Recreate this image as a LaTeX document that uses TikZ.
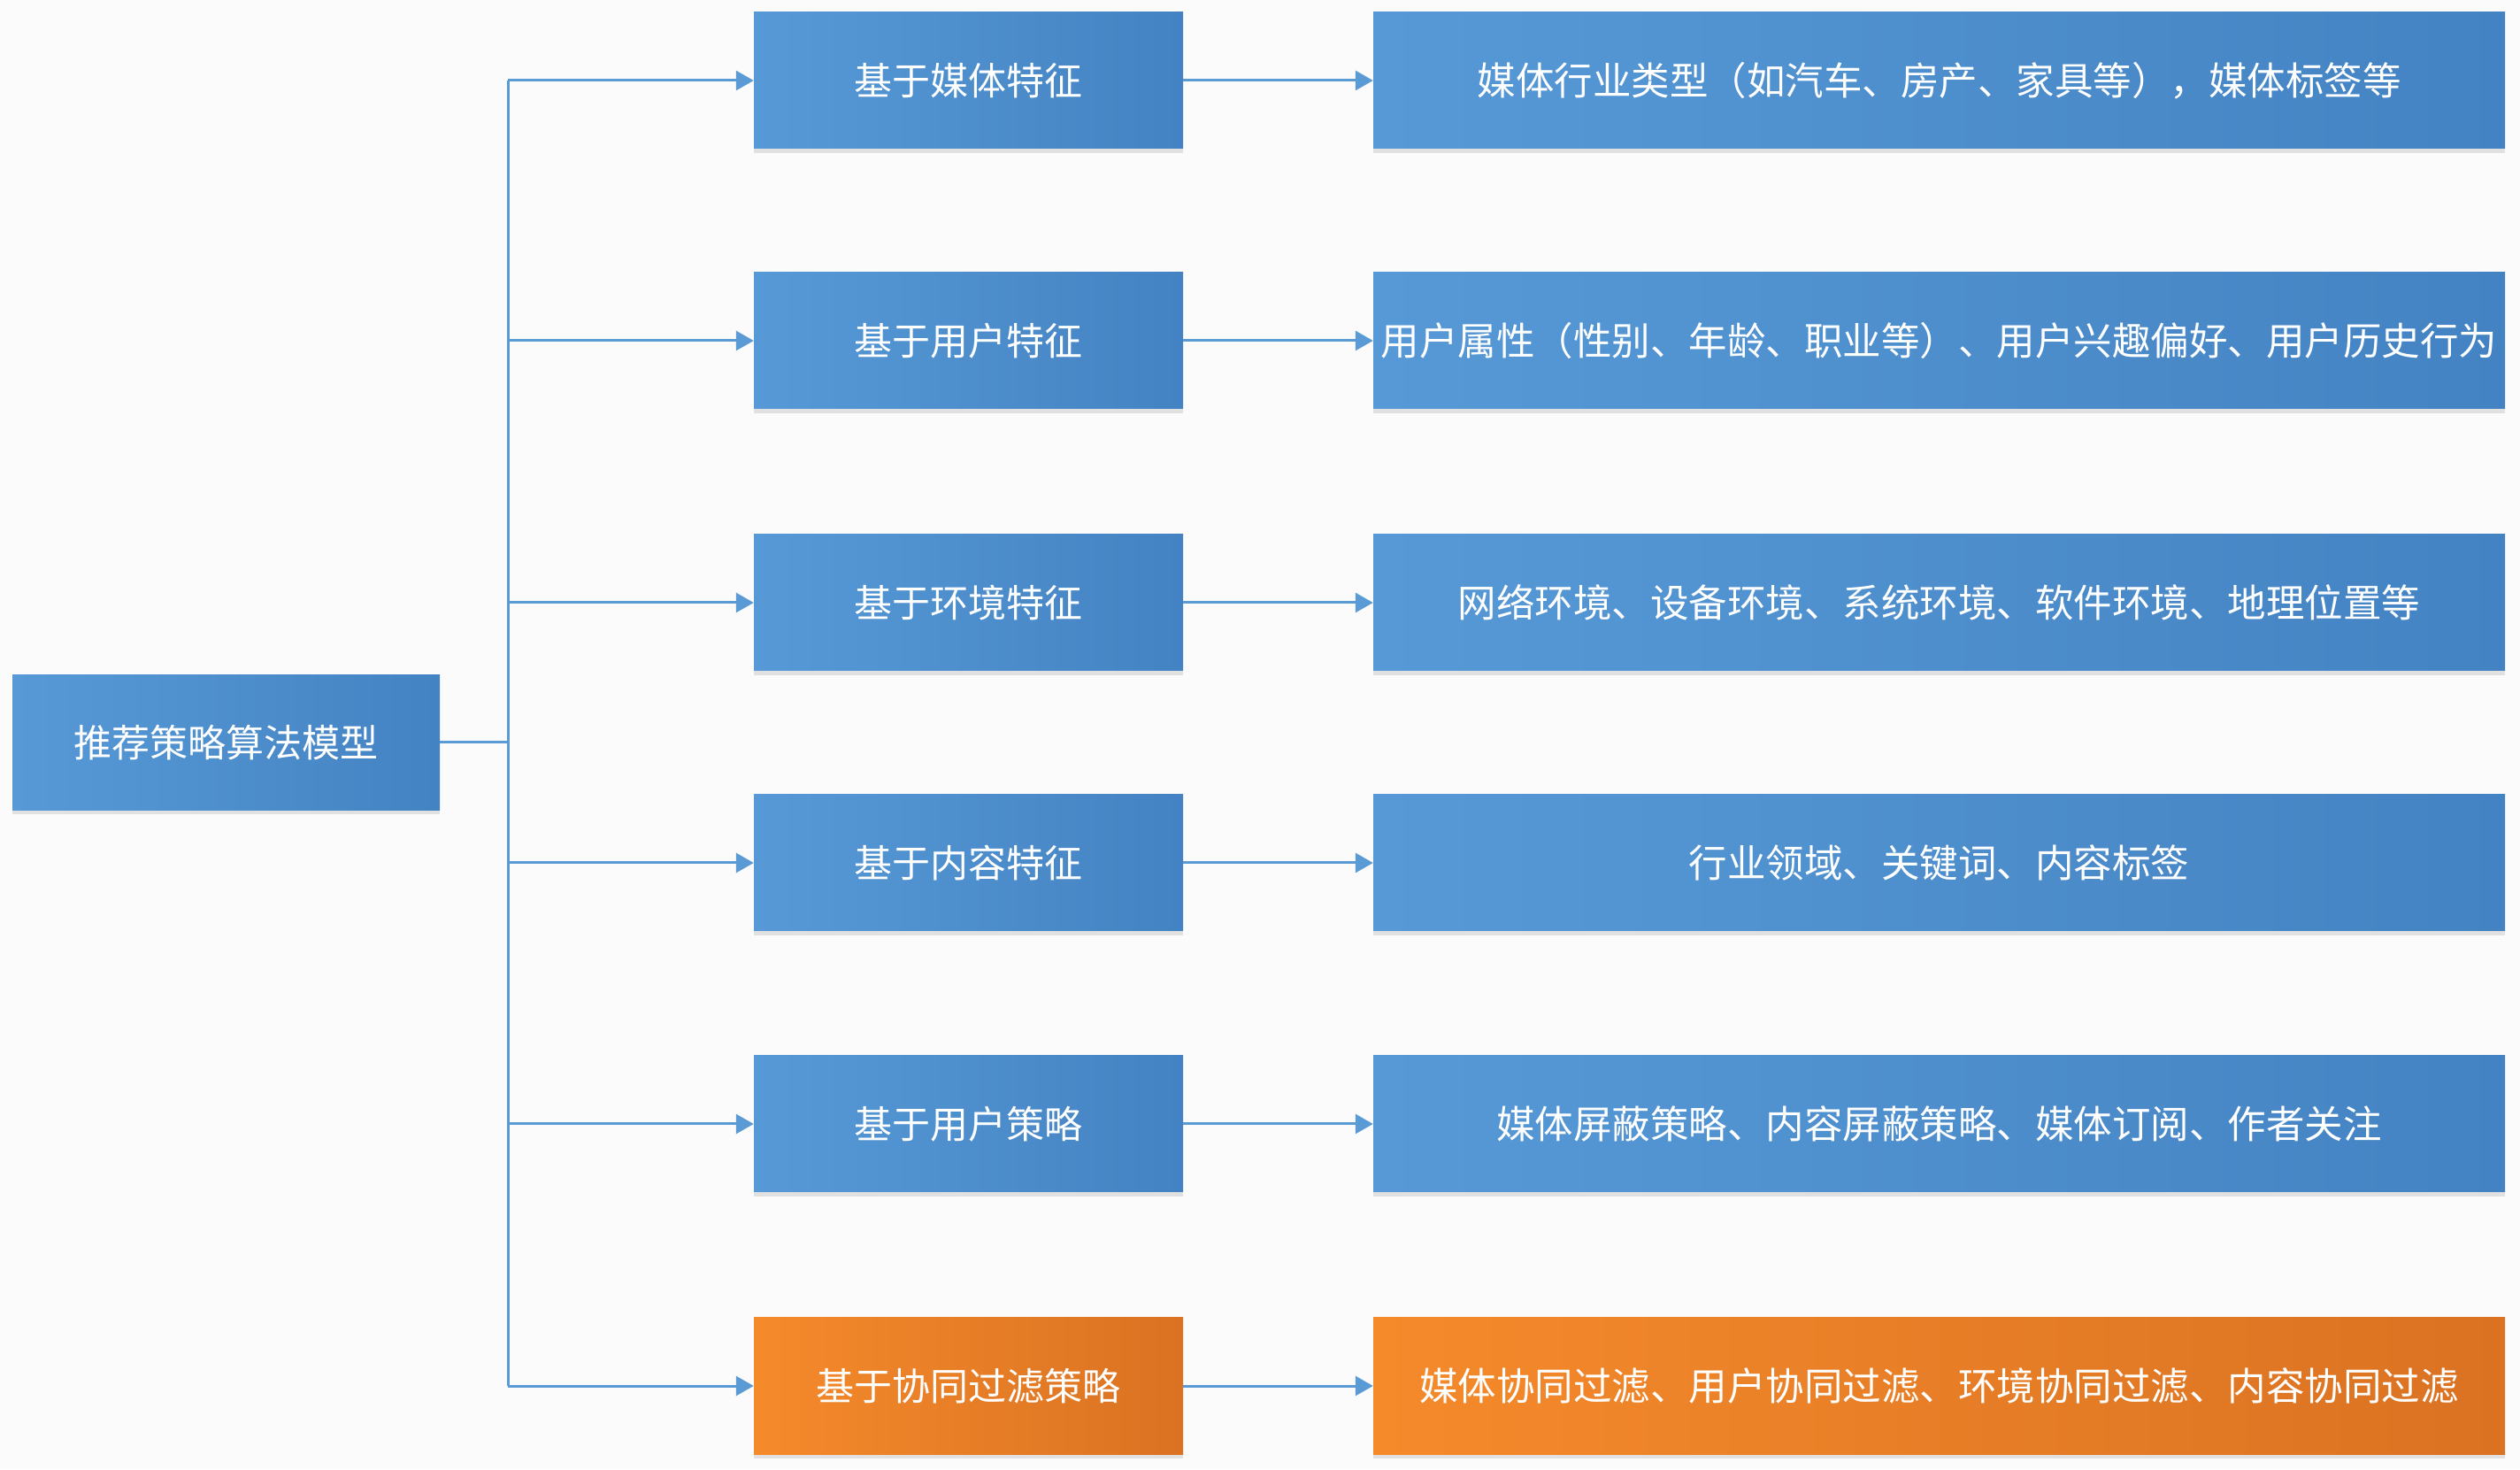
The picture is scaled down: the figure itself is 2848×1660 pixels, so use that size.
\documentclass[tikz,border=0pt]{standalone}
\usepackage{fontspec}
\newfontfamily\cjk{Noto Sans CJK SC}
\usetikzlibrary{arrows.meta,positioning,shadows}
\definecolor{blueL}{HTML}{5799D6}
\definecolor{blueD}{HTML}{4483C3}
\definecolor{orgL}{HTML}{F58A2B}
\definecolor{orgD}{HTML}{DA7222}
\definecolor{lineC}{HTML}{5B9BD5}
\definecolor{bgC}{HTML}{FBFBFB}
\tikzset{
  box/.style={draw=none, rectangle, inner sep=0pt, text=white, font=\cjk\fontsize{43}{50}\selectfont,
    left color=blueL, right color=blueD,
    drop shadow={shadow xshift=0pt, shadow yshift=-5pt, fill=black!18, opacity=0.6}},
  obox/.style={box, left color=orgL, right color=orgD},
  midbox/.style={minimum width=485pt, minimum height=154pt},
  rightbox/.style={minimum width=1279pt, minimum height=154pt, font=\cjk\fontsize{43.5}{50}\selectfont},
  conn/.style={draw=lineC, line width=3pt},
  arr/.style={conn, -{Triangle[length=20pt,width=22pt]}}
}
\begin{document}
\begin{tikzpicture}[x=1pt,y=1pt]
\fill[bgC] (0,0) rectangle (2848,1660);
\useasboundingbox (0,0) rectangle (2848,1660);
% root
\node[box, minimum width=483pt, minimum height=153pt] (root) at (255.5,821) {推荐策略算法模型};
% middle column
\node[box, midbox] (m1) at (1094.5,1569) {基于媒体特征};
\node[box, midbox] (m2) at (1094.5,1275) {基于用户特征};
\node[box, midbox] (m3) at (1094.5,979) {基于环境特征};
\node[box, midbox] (m4) at (1094.5,685) {基于内容特征};
\node[box, midbox] (m5) at (1094.5,390) {基于用户策略};
\node[obox, midbox] (m6) at (1094.5,94) {基于协同过滤策略};
% right column
\node[box, rightbox] (r1) at (2191.5,1569) {媒体行业类型（如汽车、房产、家具等），媒体标签等};
\node[box, rightbox] (r2) at (2191.5,1275) {用户属性（性别、年龄、职业等）、用户兴趣偏好、用户历史行为};
\node[box, rightbox] (r3) at (2191.5,979) {网络环境、设备环境、系统环境、软件环境、地理位置等};
\node[box, rightbox] (r4) at (2191.5,685) {行业领域、关键词、内容标签};
\node[box, rightbox] (r5) at (2191.5,390) {媒体屏蔽策略、内容屏蔽策略、媒体订阅、作者关注};
\node[obox, rightbox] (r6) at (2191.5,94) {媒体协同过滤、用户协同过滤、环境协同过滤、内容协同过滤};
% trunk
\coordinate (tTop) at (574,1569);
\coordinate (tBot) at (574,94);
\coordinate (tMid) at (574,821);
\draw[conn] (tTop) -- (tBot);
\draw[conn] (root.east) -- (tMid);
\foreach \i in {1,...,6}{
  \draw[arr] (m\i.west -| tMid) -- (m\i.west);
  \draw[arr] (m\i.east) -- (r\i.west);
}
\end{tikzpicture}
\end{document}
